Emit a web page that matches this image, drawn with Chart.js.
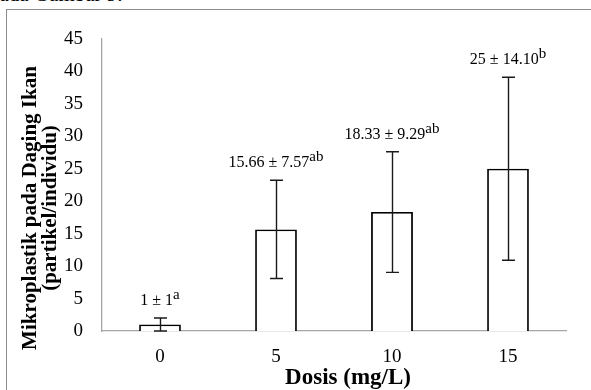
<!DOCTYPE html>
<html>
<head>
<meta charset="utf-8">
<script src="https://cdn.jsdelivr.net/npm/chart.js@4.4.1/dist/chart.umd.min.js"></script>
<style>
  html, body { margin: 0; padding: 0; background: #fff; }
  #wrap { position: relative; width: 591px; height: 390px; overflow: hidden; }
  #caption { position: absolute; left: -11px; top: -18px; font: 21px 'Liberation Serif', serif; color: #000; white-space: nowrap; }
  #frame { position: absolute; left: 6px; top: 9px; width: 640px; height: 420px; border: 1px solid #8c8c8c; box-sizing: border-box; }
  canvas { position: absolute; left: 0; top: 0; }
</style>
</head>
<body>
<div id="wrap">
  <div id="caption">pada Gambar 9.</div>
  <div id="frame"></div>
  <canvas id="chart" width="591" height="390"></canvas>
</div>
<script>
// data
const doses = ['0', '5', '10', '15'];
const means = [1, 15.66, 18.33, 25];
const sds = [1, 7.57, 9.29, 14.10];
const letters = ['a', 'ab', 'ab', 'b'];
const yTicks = [0, 5, 10, 15, 20, 25, 30, 35, 40, 45];

const serif = "'Liberation Serif', 'Times New Roman', serif";

function fmt(v) {
    return Number.isInteger(v) ? String(v) : v.toFixed(2);
}

// garis error bar
const errorBars = {
    id: 'errorBars',
    afterDatasetsDraw(chart) {
        const ctx = chart.ctx;
        const y = chart.scales.y;
        const meta = chart.getDatasetMeta(0);
        ctx.save();
        ctx.strokeStyle = '#1a1a1a';
        ctx.lineWidth = 1.4;
        meta.data.forEach((bar, i) => {
            const top = y.getPixelForValue(means[i] + sds[i]);
            const bot = y.getPixelForValue(Math.max(0, means[i] - sds[i]));
            const x = Math.round(bar.x) + 0.5;
            ctx.beginPath();
            ctx.moveTo(x, top);
            ctx.lineTo(x, bot);
            ctx.moveTo(x - 6.5, top);
            ctx.lineTo(x + 6.5, top);
            ctx.moveTo(x - 6.5, bot);
            ctx.lineTo(x + 6.5, bot);
            ctx.stroke();
        });
        ctx.restore();
    }
};

// label mean ± sd dengan huruf superscript
const meanLabels = {
    id: 'meanLabels',
    afterDatasetsDraw(chart) {
        const ctx = chart.ctx;
        const y = chart.scales.y;
        const meta = chart.getDatasetMeta(0);
        ctx.save();
        ctx.fillStyle = '#000';
        ctx.textBaseline = 'alphabetic';
        ctx.textAlign = 'left';
        meta.data.forEach((bar, i) => {
            const main = fmt(means[i]) + ' \u00b1 ' + fmt(sds[i]);
            ctx.font = '16px ' + serif;
            const w1 = ctx.measureText(main).width;
            ctx.font = '15px ' + serif;
            const w2 = ctx.measureText(letters[i]).width;
            const left = bar.x - (w1 + w2) / 2;
            const base = y.getPixelForValue(means[i] + sds[i]) - 13;
            ctx.font = '16px ' + serif;
            ctx.fillText(main, left, base);
            ctx.font = '15px ' + serif;
            ctx.fillText(letters[i], left + w1, base - 6);
        });
        ctx.restore();
    }
};

// judul sumbu
const axisTitles = {
    id: 'axisTitles',
    afterDraw(chart) {
        const ctx = chart.ctx;
        const area = chart.chartArea;
        ctx.save();
        ctx.fillStyle = '#000';
        ctx.textAlign = 'center';
        ctx.textBaseline = 'middle';
        ctx.font = 'bold 23px ' + serif;
        ctx.fillText('Dosis (mg/L)', (area.left + area.right) / 2 + 14, area.bottom + 47);
        ctx.translate(area.left - 71, (area.top + area.bottom) / 2 + 23);
        ctx.rotate(-Math.PI / 2);
        ctx.font = 'bold 21px ' + serif;
        ctx.fillText('Mikroplastik pada Daging Ikan', 0, 0);
        ctx.fillText('(partikel/individu)', 0, 20);
        ctx.restore();
    }
};

const ctx = document.getElementById('chart').getContext('2d');
new Chart(ctx, {
    type: 'bar',
    data: {
        labels: doses,
        datasets: [{
            data: means,
            backgroundColor: '#ffffff',
            borderColor: '#000000',
            borderWidth: 1.8,
            barPercentage: 0.36,
            categoryPercentage: 1
        }]
    },
    options: {
        responsive: false,
        animation: false,
        devicePixelRatio: 1,
        layout: { padding: { top: 39, right: 25, left: 0, bottom: 0 } },
        plugins: {
            legend: { display: false },
            tooltip: { enabled: false }
        },
        scales: {
            x: {
                grid: { display: false, drawTicks: false },
                border: { color: '#a6a6a6', width: 1.3 },
                ticks: { color: '#000', font: { family: serif, size: 19 }, padding: 15 },
                afterFit(scale) { scale.height = 59; }
            },
            y: {
                min: 0,
                max: 45,
                grid: { display: false, drawTicks: false },
                border: { color: '#a6a6a6', width: 1.3 },
                afterBuildTicks(scale) { scale.ticks = yTicks.map(v => ({ value: v })); },
                ticks: { color: '#000', font: { family: serif, size: 19 }, padding: 19 },
                afterFit(scale) { scale.width = 102; }
            }
        }
    },
    plugins: [errorBars, meanLabels, axisTitles]
});
</script>
</body>
</html>
